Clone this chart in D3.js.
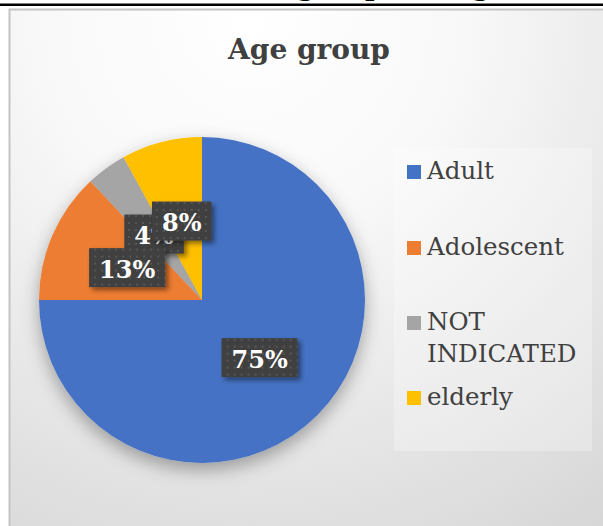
<!DOCTYPE html>
<html>
<head>
<meta charset="utf-8">
<script src="https://cdn.jsdelivr.net/npm/d3@7"></script>
<style>
  html, body { margin: 0; padding: 0; background: #fff; }
  svg { display: block; }
</style>
</head>
<body>
<svg id="chart" width="603" height="526"></svg>
<script>
// Age group breakdown
const categories = ["Adult", "Adolescent", "NOT INDICATED", "elderly"];
const values = [75, 13, 4, 8];
const colors = ["#4472C4", "#ED7D31", "#A5A5A5", "#FFC000"];
const labelText = ["75%", "13%", "4%", "8%"];
const legendLines = [["Adult"], ["Adolescent"], ["NOT", "INDICATED"], ["elderly"]];

const svg = d3.select("#chart");
const W = 603, H = 526;
const defs = svg.append("defs");

// chart area background: soft radial fade from white to light gray
const bg = defs.append("radialGradient").attr("id", "bgGrad")
  .attr("gradientUnits", "userSpaceOnUse")
  .attr("cx", 250).attr("cy", 20).attr("r", 620);
bg.append("stop").attr("offset", "0%").attr("stop-color", "#ffffff");
bg.append("stop").attr("offset", "35%").attr("stop-color", "#f8f8f8");
bg.append("stop").attr("offset", "100%").attr("stop-color", "#d6d6d6");

// pie shadow
const pieShadow = defs.append("filter").attr("id", "pieShadow")
  .attr("x", "-30%").attr("y", "-30%").attr("width", "160%").attr("height", "160%");
pieShadow.append("feDropShadow").attr("dx", 0).attr("dy", 7)
  .attr("stdDeviation", 9).attr("flood-color", "#000").attr("flood-opacity", 0.33);

// label box shadow
const boxShadow = defs.append("filter").attr("id", "boxShadow")
  .attr("x", "-30%").attr("y", "-30%").attr("width", "160%").attr("height", "160%");
boxShadow.append("feDropShadow").attr("dx", 3).attr("dy", 3)
  .attr("stdDeviation", 2.5).attr("flood-color", "#000").attr("flood-opacity", 0.45);

// dotted texture inside label boxes
const pat = defs.append("pattern").attr("id", "dots")
  .attr("patternUnits", "userSpaceOnUse").attr("width", 7).attr("height", 7);
pat.append("rect").attr("width", 7).attr("height", 7).attr("fill", "#3f3f3f");
pat.append("rect").attr("x", 2).attr("y", 2).attr("width", 2).attr("height", 2).attr("fill", "#575757");

// heading of the page above the chart (clipped at the top edge)
svg.append("text")
  .attr("x", 297).attr("y", -4)
  .attr("font-family", "DejaVu Serif").attr("font-weight", "bold").attr("font-size", 26)
  .attr("fill", "#000")
  .text("group and age (%)");
svg.append("rect").attr("x", 0).attr("y", 3.5).attr("width", W).attr("height", 2.5).attr("fill", "#000");

// chart frame
svg.append("rect")
  .attr("x", 9.5).attr("y", 9.5).attr("width", 700).attr("height", 700)
  .attr("fill", "url(#bgGrad)").attr("stroke", "#c4c4c4").attr("stroke-width", 2);

// title
svg.append("text")
  .attr("x", 309).attr("y", 59)
  .attr("text-anchor", "middle")
  .attr("font-family", "DejaVu Serif").attr("font-weight", "bold").attr("font-size", 28)
  .attr("fill", "#404040")
  .text("Age group");

// pie
const cx = 202, cy = 300, R = 163;
const pie = d3.pie().sort(null).value(d => d)(values);
const arc = d3.arc().innerRadius(0).outerRadius(R);

const g = svg.append("g").attr("transform", `translate(${cx},${cy})`);
g.append("g").attr("filter", "url(#pieShadow)")
  .selectAll("path").data(pie).join("path")
  .attr("d", arc)
  .attr("fill", (d, i) => colors[i]);

// data labels (drawn so that later boxes sit on top)
const fs = 24;
const labelOrder = [0, 2, 1, 3];
labelOrder.forEach(i => {
  const [lx, ly] = arc.centroid(pie[i]);
  const lg = g.append("g").attr("transform", `translate(${lx},${ly})`);
  const t = lg.append("text")
    .attr("text-anchor", "middle")
    .attr("y", 10)
    .attr("font-family", "DejaVu Serif").attr("font-weight", "bold").attr("font-size", fs)
    .attr("fill", "#ffffff")
    .text(labelText[i]);
  const tw = t.node().getComputedTextLength();
  const bw = tw + 20, bh = 39;
  lg.insert("rect", "text")
    .attr("x", -bw / 2).attr("y", -bh / 2)
    .attr("width", bw).attr("height", bh)
    .attr("fill", "url(#dots)")
    .attr("filter", "url(#boxShadow)");
});

// legend
svg.append("rect")
  .attr("x", 394).attr("y", 148).attr("width", 198).attr("height", 303)
  .attr("fill", "#ffffff").attr("fill-opacity", 0.28);

const legendBase = [179, 255, 330, 405];
const legend = svg.append("g");
categories.forEach((c, i) => {
  const by = legendBase[i];
  legend.append("rect")
    .attr("x", 407).attr("y", by - 14).attr("width", 14).attr("height", 14)
    .attr("fill", colors[i]);
  const t = legend.append("text")
    .attr("x", 427).attr("y", by)
    .attr("font-family", "DejaVu Serif").attr("font-size", 24.5)
    .attr("fill", "#404040");
  legendLines[i].forEach((line, k) => {
    t.append("tspan").attr("x", 427).attr("dy", k === 0 ? 0 : 32).text(line);
  });
});
</script>
</body>
</html>
